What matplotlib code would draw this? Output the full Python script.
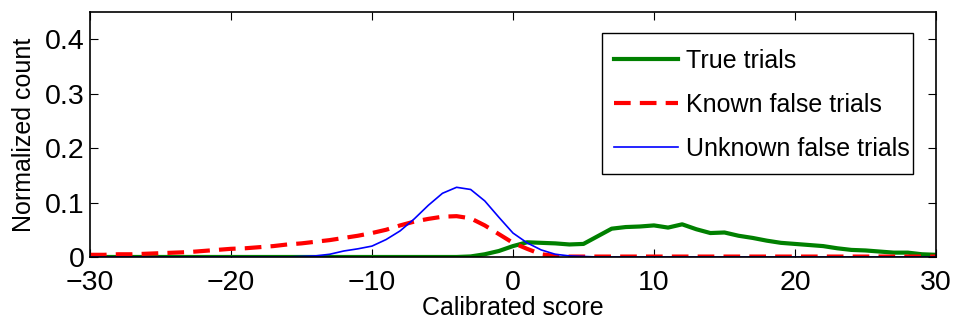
import numpy as np
import matplotlib
matplotlib.use('Agg')
import matplotlib.pyplot as plt
from matplotlib.ticker import FormatStrFormatter
from matplotlib.patches import Rectangle

plt.rcParams['font.family'] = ['Liberation Sans', 'DejaVu Sans']

# Score bins (calibrated score)
score = list(range(-30, 31))

# Normalized counts, one value per bin
true_trials = [0] * 27 + [
    0.001, 0.005, 0.011, 0.020, 0.027, 0.026, 0.025, 0.023, 0.024, 0.038,
    0.052, 0.055, 0.056, 0.058, 0.054, 0.060, 0.051, 0.044, 0.045, 0.039,
    0.035, 0.030, 0.026, 0.024, 0.022, 0.020, 0.016, 0.013, 0.012, 0.010,
    0.008, 0.008, 0.005, 0.004]

known_false = [
    0.004, 0.004, 0.005, 0.005, 0.006, 0.007, 0.008, 0.009, 0.011, 0.013,
    0.015, 0.016, 0.018, 0.020, 0.023, 0.025, 0.028, 0.031, 0.035, 0.039,
    0.044, 0.050, 0.058, 0.065, 0.070, 0.074, 0.075, 0.071, 0.058, 0.042,
    0.026, 0.015, 0.005, 0.002] + [0.0008] * 27

unknown_false = [0] * 15 + [
    0.001, 0.002, 0.005, 0.011, 0.015, 0.020, 0.032, 0.048, 0.070, 0.095,
    0.117, 0.128, 0.124, 0.103, 0.073, 0.044, 0.026, 0.013, 0.005, 0.002,
    0.001] + [0] * 25

fig = plt.figure(figsize=(9.54, 3.22), dpi=100)
ax = fig.add_axes([0.0943, 0.2019, 0.8868, 0.7608])

ax.plot(score, true_trials, color='#008000', lw=3.0, label='True trials')
ax.plot(score, known_false, color='#ff0000', lw=3.0, ls=(0, (4, 2.2)),
        label='Known false trials')
ax.plot(score, unknown_false, color='#0000ff', lw=1.2, label='Unknown false trials')

ax.set_xlim(-30, 30)
ax.set_ylim(0, 0.45)
ax.set_xticks(range(-30, 31, 10))
ax.set_yticks([0, 0.1, 0.2, 0.3, 0.4])
ax.yaxis.set_major_formatter(FormatStrFormatter('%g'))
ax.tick_params(direction='in', length=6, width=0.8, top=True, right=True,
               labelsize=20.5)
ax.tick_params(axis='x', pad=9.5)
ax.tick_params(axis='y', pad=4)
for s in ax.spines.values():
    s.set_linewidth(1.2)

ax.set_xlabel('Calibrated score', fontsize=18, labelpad=0)
ax.set_ylabel('Normalized count', fontsize=18, labelpad=6)

# legend entries without frame, the box is drawn separately (MATLAB style padding)
leg = ax.legend(loc='upper left', bbox_to_anchor=(0.6194, 0.851), borderaxespad=0,
                fontsize=18, frameon=False, handlelength=2.56, labelspacing=0.8,
                borderpad=0, handletextpad=0.32)
ax.add_patch(Rectangle((0.6052, 0.3388), 0.3676, 0.5755, transform=ax.transAxes,
                       fill=False, edgecolor='black', lw=1.0, zorder=5))

fig.savefig('out.png', dpi=100)
